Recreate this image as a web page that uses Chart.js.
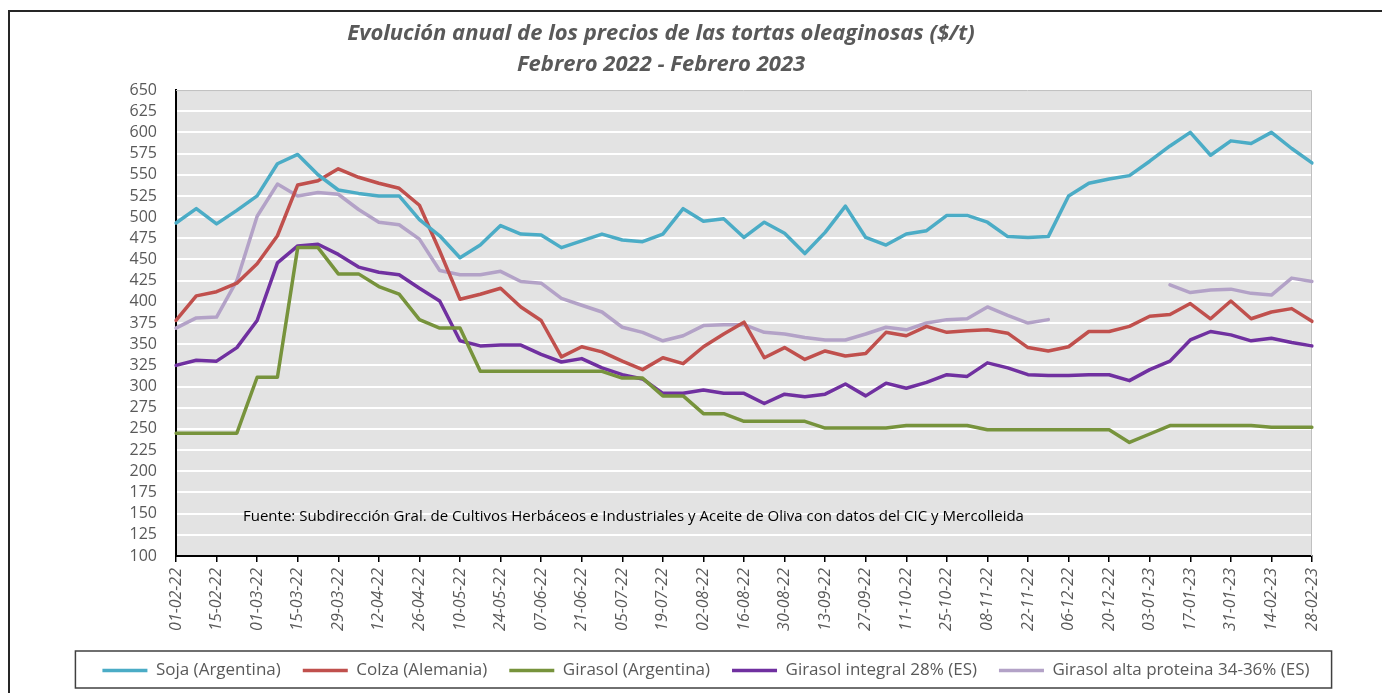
<!DOCTYPE html>
<html>
<head>
<meta charset="utf-8">
<script src="https://cdn.jsdelivr.net/npm/chart.js@4.4.0/dist/chart.umd.min.js"></script>
<style>
  html, body { margin: 0; padding: 0; background: #fff; overflow: hidden; }
  #wrap { position: relative; width: 1382px; height: 693px; }
  #marco { position: absolute; left: 8px; top: 10px; width: 1400px; height: 700px;
           border-left: 2px solid #262626; border-top: 2px solid #262626; }
  #wrap canvas { position: absolute; left: 0; top: 0; }
</style>
</head>
<body>
<div id="wrap">
  <div id="marco"></div>
  <canvas id="grafico"></canvas>
</div>
<script>
// semanas (martes) de febrero 2022 a febrero 2023
const fechas = [
  '01-02-22','08-02-22','15-02-22','22-02-22','01-03-22','08-03-22','15-03-22','22-03-22','29-03-22',
  '05-04-22','12-04-22','19-04-22','26-04-22','03-05-22','10-05-22','17-05-22','24-05-22','31-05-22',
  '07-06-22','14-06-22','21-06-22','28-06-22','05-07-22','12-07-22','19-07-22','26-07-22','02-08-22',
  '09-08-22','16-08-22','23-08-22','30-08-22','06-09-22','13-09-22','20-09-22','27-09-22','04-10-22',
  '11-10-22','18-10-22','25-10-22','01-11-22','08-11-22','15-11-22','22-11-22','29-11-22','06-12-22',
  '13-12-22','20-12-22','27-12-22','03-01-23','10-01-23','17-01-23','24-01-23','31-01-23','07-02-23',
  '14-02-23','21-02-23','28-02-23'
];

const soja = [493, 510, 492, 508, 525, 563, 574, 550, 532, 528, 525, 525, 497, 478, 452, 467, 490, 480, 479, 464,
  472, 480, 473, 471, 480, 510, 495, 498, 476, 494, 481, 457, 482, 513, 476, 467, 480, 484, 502, 502,
  494, 477, 476, 477, 525, 540, 545, 549, 566, 584, 600, 573, 590, 587, 600, 581, 564];

const colza = [378, 407, 412, 422, 445, 478, 538, 543, 557, 547, 540, 534, 514, 460, 403, 409, 416, 394, 378, 335,
  347, 341, 330, 320, 334, 327, 347, 362, 376, 334, 346, 332, 342, 336, 339, 364, 360, 371, 364, 366,
  367, 363, 346, 342, 347, 365, 365, 371, 383, 385, 398, 380, 401, 380, 388, 392, 377];

const girasolArg = [245, 245, 245, 245, 311, 311, 464, 464, 433, 433, 418, 409, 379, 369, 369, 318, 318, 318, 318, 318,
  318, 318, 310, 310, 289, 289, 268, 268, 259, 259, 259, 259, 251, 251, 251, 251, 254, 254, 254, 254,
  249, 249, 249, 249, 249, 249, 249, 234, 244, 254, 254, 254, 254, 254, 252, 252, 252];

const girasolIntegral = [325, 331, 330, 346, 378, 446, 466, 468, 456, 441, 435, 432, 416, 401, 354, 348, 349, 349, 338, 329,
  333, 322, 314, 309, 292, 292, 296, 292, 292, 280, 291, 288, 291, 303, 289, 304, 298, 305, 314, 312,
  328, 322, 314, 313, 313, 314, 314, 307, 320, 330, 355, 365, 361, 354, 357, 352, 348];

const girasolAlta = [369, 381, 382, 425, 501, 539, 525, 529, 527, 509, 494, 491, 474, 437, 432, 432, 436, 424, 422, 404,
  396, 388, 370, 364, 354, 360, 372, 373, 373, 364, 362, 358, 355, 355, 362, 370, 367, 375, 379, 380,
  394, 384, 375, 379, null, null, null, null, null, 420, 411, 414, 415, 410, 408, 428, 424];

const series = ['Soja (Argentina)', 'Colza (Alemania)', 'Girasol (Argentina)',
  'Girasol integral 28% (ES)', 'Girasol alta proteina 34-36% (ES)'];
const colores = ['#4bacc6', '#c0504d', '#77933c', '#7030a0', '#b3a2c7'];

const titulo = ['Evolución anual de los precios de las tortas oleaginosas ($/t)', 'Febrero 2022 - Febrero 2023'];
const fuente = 'Fuente: Subdirección Gral. de Cultivos Herbáceos e Industriales y Aceite de Oliva con datos del CIC y Mercolleida';

Chart.defaults.font.family = '"Open Sans", sans-serif';
Chart.defaults.color = '#595959';

// fondo gris del área de trazado, borde fino y nota de fuente
const fondo = {
  id: 'fondo',
  beforeDraw(chart) {
    const { ctx, chartArea: a } = chart;
    ctx.save();
    ctx.fillStyle = '#e3e3e3';
    ctx.fillRect(a.left, a.top, a.right - a.left, a.bottom - a.top);
    ctx.restore();
  },
  beforeDatasetsDraw(chart) {
    const { ctx, chartArea: a } = chart;
    ctx.save();
    ctx.strokeStyle = '#c0c0c0';
    ctx.lineWidth = 1;
    ctx.beginPath();
    ctx.moveTo(a.left, a.top + 0.5);
    ctx.lineTo(a.right - 0.5, a.top + 0.5);
    ctx.lineTo(a.right - 0.5, a.bottom);
    ctx.stroke();
    ctx.fillStyle = '#000';
    ctx.font = '15px "Open Sans", sans-serif';
    ctx.textBaseline = 'middle';
    ctx.fillText(fuente, a.left + 67, chart.scales.y.getPixelForValue(146));
    ctx.restore();
  }
};

// leyenda desplazada a la derecha y enmarcada
const marcoLeyenda = {
  id: 'marcoLeyenda',
  afterLayout(chart) {
    chart.legend.left += 45;
    chart.legend.right += 45;
  },
  afterDraw(chart) {
    const cajas = chart.legend.legendHitBoxes;
    if (!cajas || !cajas.length) return;
    const izq = Math.min(...cajas.map(c => c.left)) - 27;
    const der = Math.max(...cajas.map(c => c.left + c.width)) + 22;
    const arr = cajas[0].top - 11;
    const aba = cajas[0].top + cajas[0].height + 9;
    const ctx = chart.ctx;
    ctx.save();
    ctx.strokeStyle = '#404040';
    ctx.lineWidth = 1.5;
    ctx.strokeRect(izq, arr, der - izq, aba - arr);
    ctx.restore();
  }
};

const datos = [soja, colza, girasolArg, girasolIntegral, girasolAlta];

new Chart(document.getElementById('grafico'), {
  type: 'line',
  data: {
    labels: fechas,
    datasets: datos.map((d, i) => ({
      label: series[i],
      data: d,
      borderColor: colores[i],
      backgroundColor: colores[i],
      borderWidth: 3.5,
      pointRadius: 0,
      tension: 0,
      borderJoinStyle: 'round',
      borderCapStyle: 'round',
      spanGaps: false
    }))
  },
  options: {
    responsive: true,
    maintainAspectRatio: false,
    animation: false,
    layout: { padding: { left: 10, right: 70, top: 14, bottom: 4 } },
    plugins: {
      title: {
        display: true,
        text: titulo,
        color: '#595959',
        font: { size: 22, weight: 'bold', style: 'italic', lineHeight: 1.41 },
        padding: { top: 4, bottom: 10 }
      },
      legend: {
        position: 'bottom',
        labels: {
          usePointStyle: true,
          pointStyle: 'line',
          pointStyleWidth: 45,
          padding: 22,
          color: '#595959',
          font: { size: 17 }
        }
      },
      tooltip: { enabled: false }
    },
    scales: {
      x: {
        offset: false,
        afterFit(s) { s.height = 84; },
        grid: { drawOnChartArea: false, drawTicks: true, tickLength: 6, tickColor: '#000', lineWidth: 1.5 },
        border: { color: '#000', width: 2 },
        ticks: {
          autoSkip: false,
          minRotation: 90,
          maxRotation: 90,
          padding: 6,
          color: '#595959',
          font: { size: 16, style: 'italic' },
          callback: (v, i) => (i % 2 === 0 ? fechas[i] : null)
        }
      },
      y: {
        min: 100,
        max: 650,
        afterFit(s) { s.width = 166; },
        grid: { color: '#ffffff', lineWidth: 2, drawTicks: false },
        border: { color: '#000', width: 2 },
        ticks: { stepSize: 25, autoSkip: false, padding: 19, color: '#595959', font: { size: 16 } }
      }
    }
  },
  plugins: [fondo, marcoLeyenda]
});
</script>
</body>
</html>
